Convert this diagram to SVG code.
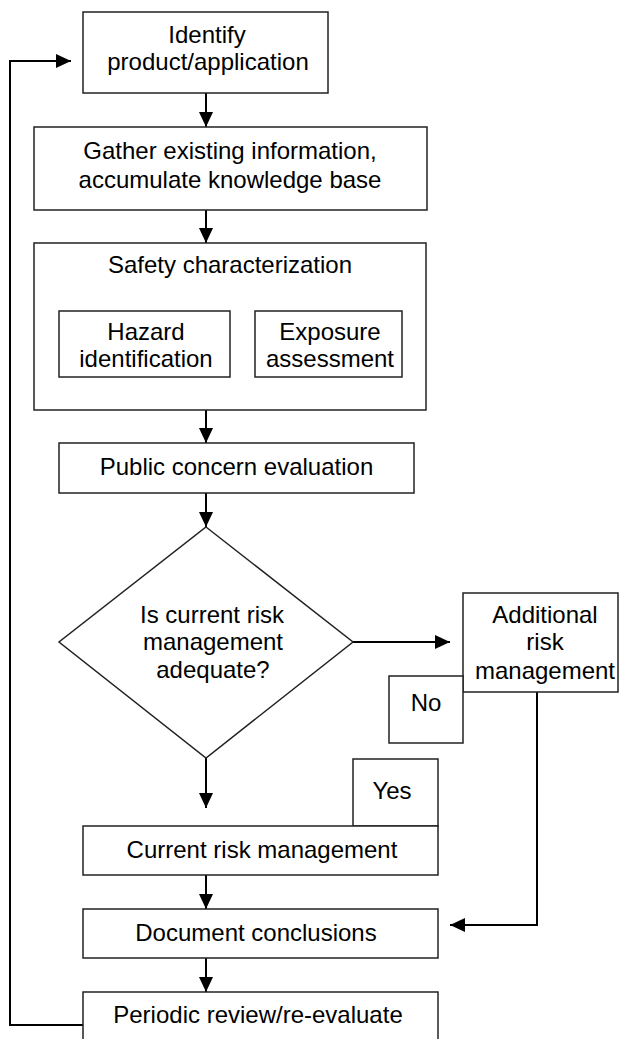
<svg xmlns="http://www.w3.org/2000/svg" width="619" height="1039" viewBox="0 0 619 1039">
<defs>
<style>
.box{fill:#fff;stroke:#222;stroke-width:1.5}
.t{font-family:"Liberation Sans",Arial,Helvetica,sans-serif;font-size:24px;fill:#000;text-anchor:middle}
.c{fill:none;stroke:#000;stroke-width:2}
</style>
<marker id="ah" markerWidth="15" markerHeight="14" refX="15" refY="7" orient="auto" markerUnits="userSpaceOnUse">
<path d="M0,0 L15,7 L0,14 Z" fill="#000"/>
</marker>
</defs>
<rect width="619" height="1039" fill="#fff"/>
<g id="connectors">
<path class="c" d="M206,93 V127" marker-end="url(#ah)"/>
<path class="c" d="M206,210 V243" marker-end="url(#ah)"/>
<path class="c" d="M206,410 V443" marker-end="url(#ah)"/>
<path class="c" d="M206,493 V527" marker-end="url(#ah)"/>
<path class="c" d="M353,642 H450" marker-end="url(#ah)"/>
<path class="c" d="M206,758 V808" marker-end="url(#ah)"/>
<path class="c" d="M537,692 V925 H450" marker-end="url(#ah)"/>
<path class="c" d="M206,875 V909" marker-end="url(#ah)"/>
<path class="c" d="M206,958 V992" marker-end="url(#ah)"/>
<path class="c" d="M83,1025 H10 V61 H71" marker-end="url(#ah)"/>
</g>
<g id="identify">
<rect class="box" x="83" y="12" width="245" height="81"/>
<text class="t" x="207" y="43">Identify</text>
<text class="t" x="208" y="70">product/application</text>
</g>
<g id="gather">
<rect class="box" x="34" y="127" width="393" height="83"/>
<text class="t" x="230" y="159">Gather existing information,</text>
<text class="t" x="230" y="188">accumulate knowledge base</text>
</g>
<g id="safety">
<rect class="box" x="34" y="243" width="392" height="167"/>
<text class="t" x="230" y="273">Safety characterization</text>
</g>
<g id="hazard">
<rect class="box" x="59" y="311" width="171" height="66"/>
<text class="t" x="146" y="340">Hazard</text>
<text class="t" x="146" y="367">identification</text>
</g>
<g id="exposure">
<rect class="box" x="255" y="311" width="147" height="66"/>
<text class="t" x="330" y="340">Exposure</text>
<text class="t" x="330" y="367">assessment</text>
</g>
<g id="public">
<rect class="box" x="59" y="443" width="355" height="50"/>
<text class="t" x="236.5" y="475">Public concern evaluation</text>
</g>
<g id="decision">
<polygon class="box" points="206,527 353,642 206,758 59,642"/>
<text class="t" x="212" y="623">Is current risk</text>
<text class="t" x="213" y="650">management</text>
<text class="t" x="213" y="678">adequate?</text>
</g>
<g id="additional">
<rect class="box" x="463" y="593" width="155" height="99"/>
<text class="t" x="545" y="623">Additional</text>
<text class="t" x="545" y="650">risk</text>
<text class="t" x="545" y="679">management</text>
</g>
<g id="no">
<rect class="box" x="389" y="676" width="74" height="67"/>
<text class="t" x="426" y="711">No</text>
</g>
<g id="yes">
<rect class="box" x="353" y="759" width="85" height="67"/>
<text class="t" x="392" y="799">Yes</text>
</g>
<g id="current">
<rect class="box" x="83" y="826" width="355" height="49"/>
<text class="t" x="262" y="858">Current risk management</text>
</g>
<g id="document">
<rect class="box" x="83" y="909" width="355" height="49"/>
<text class="t" x="256" y="941">Document conclusions</text>
</g>
<g id="periodic">
<rect class="box" x="83" y="992" width="355" height="60"/>
<text class="t" x="258" y="1023">Periodic review/re-evaluate</text>
</g>
</svg>
